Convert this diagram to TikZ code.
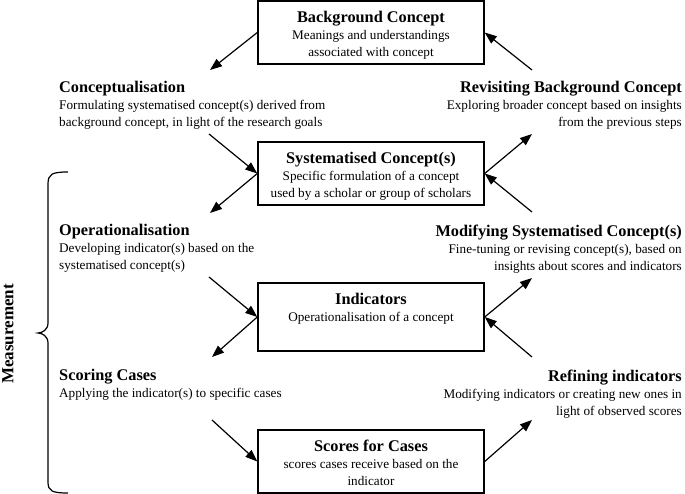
\documentclass[tikz,border=0pt]{standalone}
\usepackage{fontspec}
\setmainfont{Liberation Serif}
\usetikzlibrary{arrows.meta, positioning, calc}

\newcommand{\steptitle}[1]{{\fontsize{16.3}{17}\selectfont\bfseries #1}}

\begin{document}
\begin{tikzpicture}[x=1pt, y=-1pt,
    box/.style={draw, line width=1.4pt, minimum width=226pt, inner sep=0pt},
    boxtext/.style={align=center, inner sep=0pt, font=\fontsize{13.2}{17}\selectfont},
    steptext/.style={inner sep=0pt, font=\fontsize{13.2}{17}\selectfont},
    flow/.style={-{Triangle[length=12pt,width=9pt]}, line width=1.2pt}]
    \useasboundingbox (0,0) rectangle (685,494);

    % Boxes
    \node[box, minimum height=63pt] (bg) at (371,32.5) {};
    \node[box, minimum height=63pt] (sys) at (371,173.5) {};
    \node[box, minimum height=68pt] (ind) at (371,317) {};
    \node[box, minimum height=63pt] (scores) at (371,461.5) {};

    \node[boxtext, below=11pt of bg.north] (bgtext)
        {\steptitle{Background Concept}\\Meanings and understandings\\associated with concept};
    \node[boxtext, below=11pt of sys.north] (systext)
        {\steptitle{Systematised Concept(s)}\\Specific formulation of a concept\\used by a scholar or group of scholars};
    \node[boxtext, below=11pt of ind.north] (indtext)
        {\steptitle{Indicators}\\Operationalisation of a concept};
    \node[boxtext, below=11pt of scores.north] (scorestext)
        {\steptitle{Scores for Cases}\\scores cases receive based on the\\indicator};

    % Steps, left column
    \node[steptext, anchor=north west, align=left] (concept) at (59,81)
        {\steptitle{Conceptualisation}\\Formulating systematised concept(s) derived from\\background concept, in light of the research goals};
    \node[steptext, anchor=north west, align=left] (oper) at (59,224)
        {\steptitle{Operationalisation}\\Developing indicator(s) based on the\\systematised concept(s)};
    \node[steptext, anchor=north west, align=left] (scoring) at (59,369)
        {\steptitle{Scoring Cases}\\Applying the indicator(s) to specific cases};

    % Steps, right column
    \node[steptext, anchor=north east, align=right] (revisit) at (682,81)
        {\steptitle{Revisiting Background Concept}\\Exploring broader concept based on insights\\from the previous steps};
    \node[steptext, anchor=north east, align=right] (modify) at (682,225)
        {\steptitle{Modifying Systematised Concept(s)}\\Fine-tuning or revising concept(s), based on\\insights about scores and indicators};
    \node[steptext, anchor=north east, align=right] (refine) at (682,370)
        {\steptitle{Refining indicators}\\Modifying indicators or creating new ones in\\light of observed scores};

    % Arrow ends next to the steps
    \coordinate (concept-in) at (210,70);
    \coordinate (concept-out) at (209,134);
    \coordinate (oper-in) at (210,213);
    \coordinate (oper-out) at (209,277);
    \coordinate (scoring-in) at (212,357);
    \coordinate (scoring-out) at (212,420);
    \coordinate (refine-in) at (532,420);
    \coordinate (refine-out) at (532,357);
    \coordinate (modify-in) at (532,278);
    \coordinate (modify-out) at (532,212);
    \coordinate (revisit-in) at (532,134);
    \coordinate (revisit-out) at (532,70);

    % Down the left
    \draw[flow] (bg.west) -- (concept-in);
    \draw[flow] (concept-out) -- (sys.west);
    \draw[flow] (sys.west) -- (oper-in);
    \draw[flow] (oper-out) -- (ind.west);
    \draw[flow] (ind.west) -- (scoring-in);
    \draw[flow] (scoring-out) -- (scores.west);

    % Back up the right
    \draw[flow] (scores.east) -- (refine-in);
    \draw[flow] (refine-out) -- (ind.east);
    \draw[flow] (ind.east) -- (modify-in);
    \draw[flow] (modify-out) -- (sys.east);
    \draw[flow] (sys.east) -- (revisit-in);
    \draw[flow] (revisit-out) -- (bg.east);

    % Measurement brace
    \draw[line width=1.2pt] (68,172) .. controls (52,172) and (48,174) .. (48,184)
        -- (48,323) .. controls (48,330) and (42,333) .. (38,333)
        .. controls (42,333) and (48,336) .. (48,343)
        -- (48,482) .. controls (48,491) and (52,493) .. (68,493);
    \node[rotate=90, font=\fontsize{17}{17}\selectfont\bfseries] (meas) at (8,334) {Measurement};
\end{tikzpicture}
\end{document}
